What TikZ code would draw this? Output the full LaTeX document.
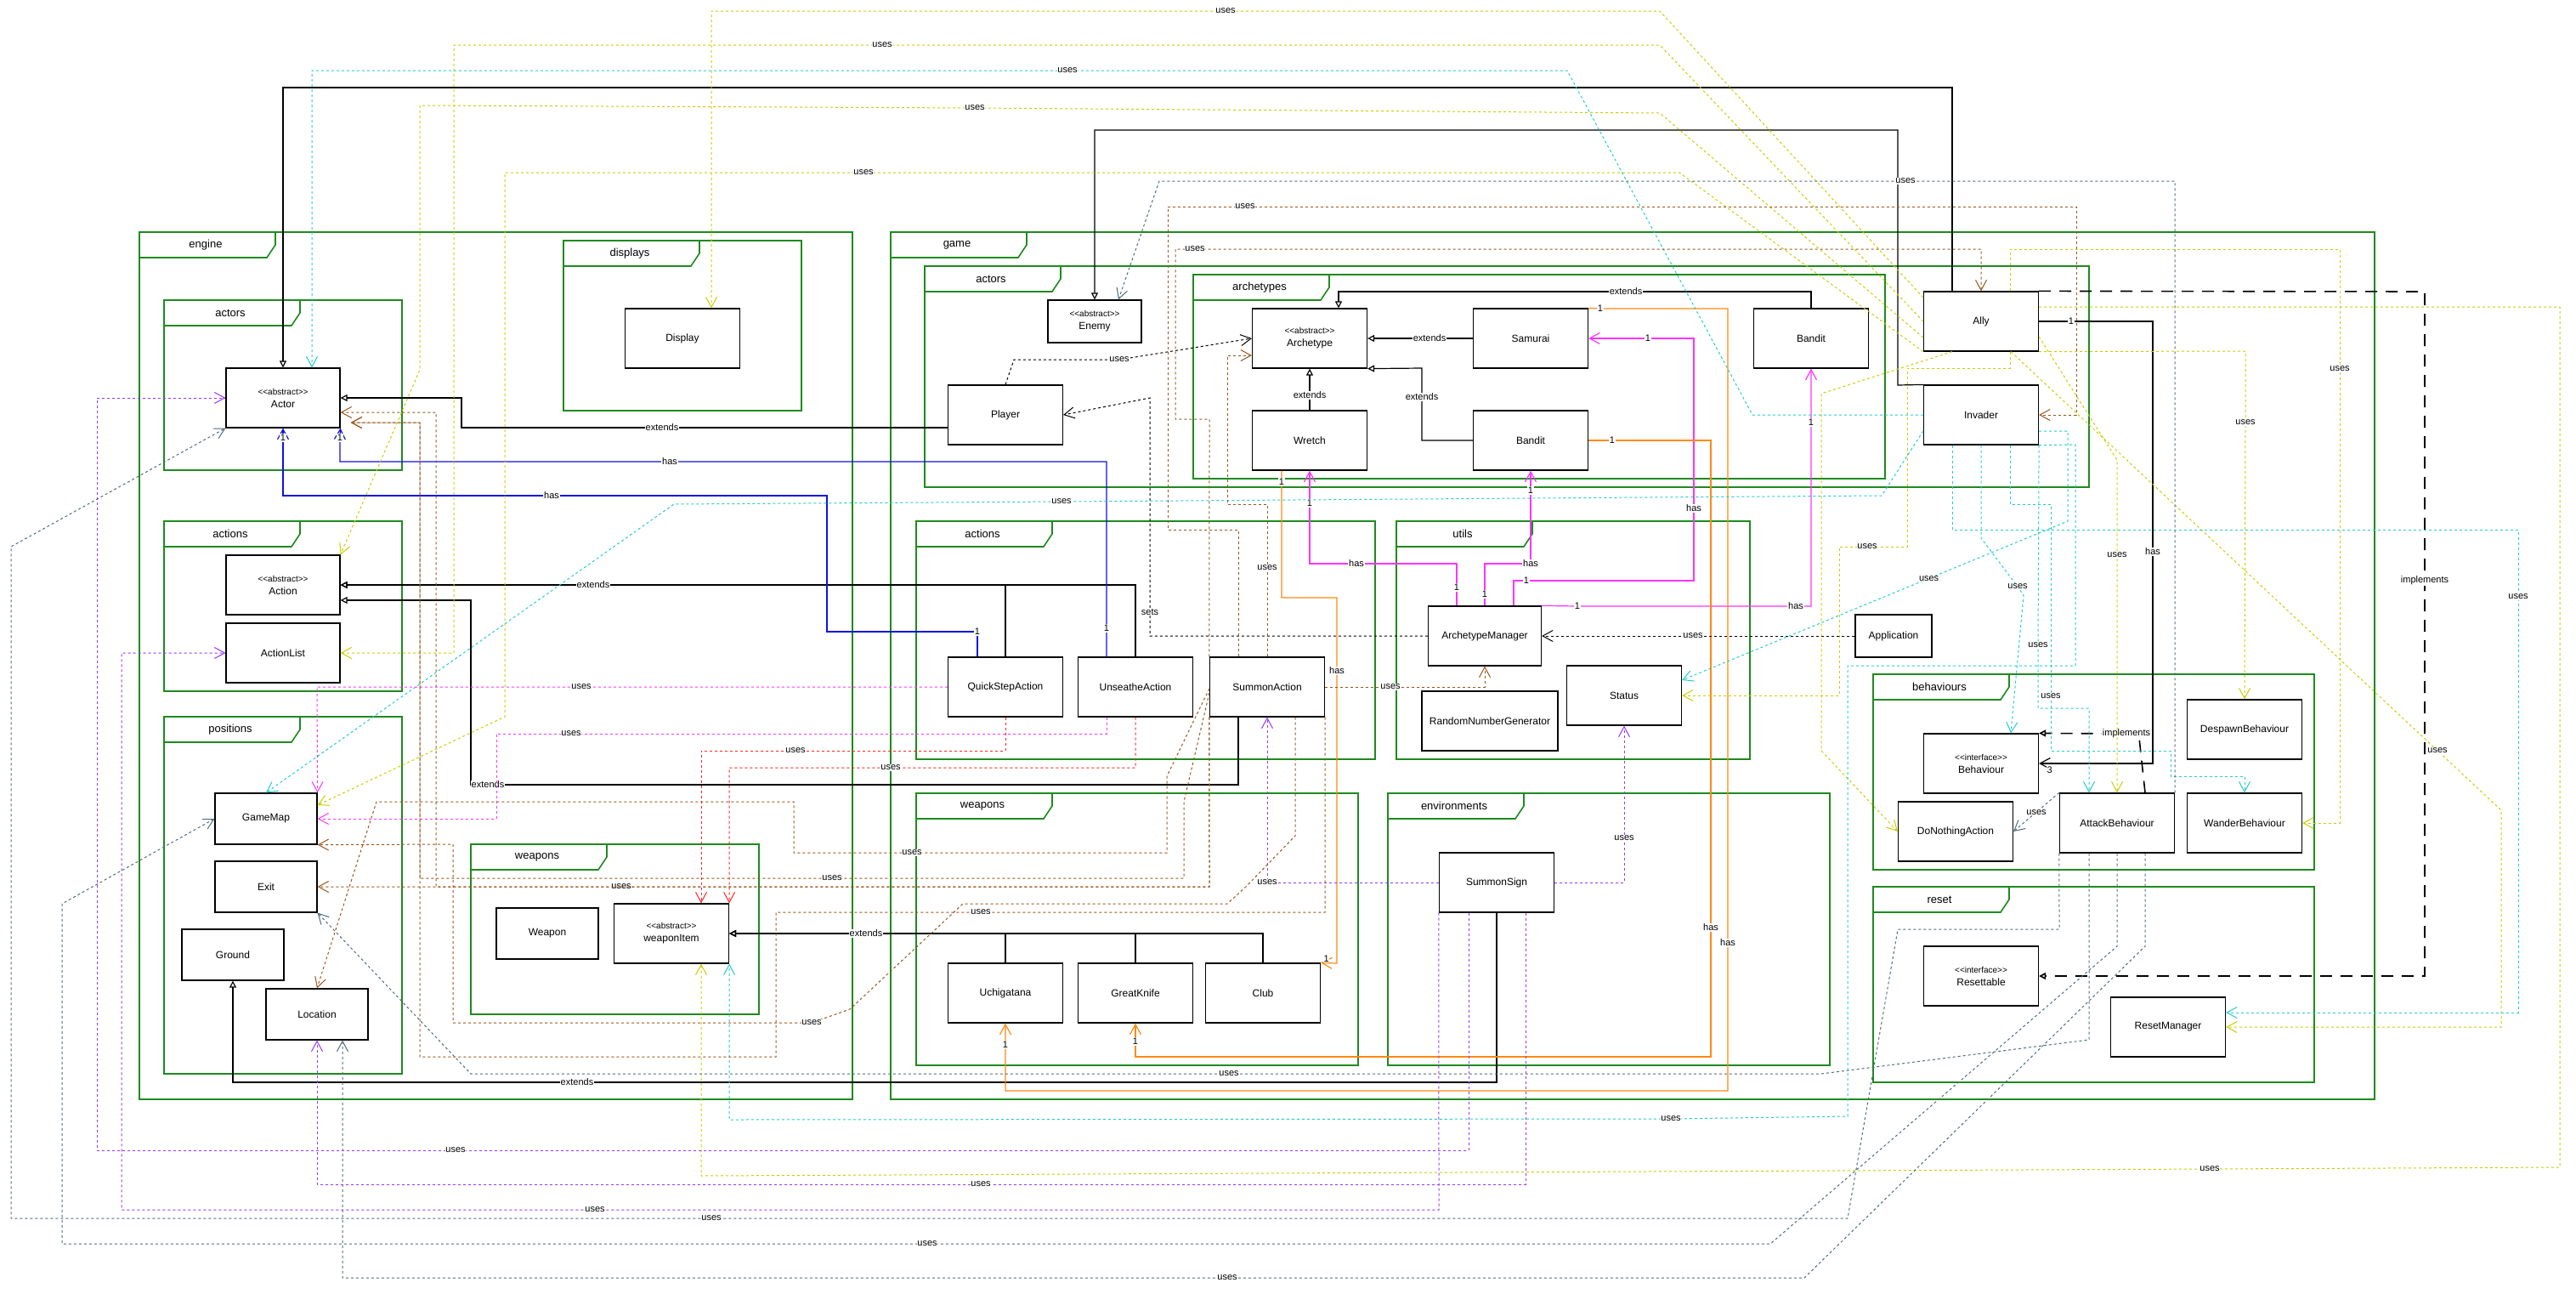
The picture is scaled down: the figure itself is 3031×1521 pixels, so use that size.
\documentclass[tikz,border=0pt]{standalone}
\usepackage{fontspec}
\setmainfont{Liberation Sans}
\usepackage{tikz}
\usetikzlibrary{arrows.meta}

\definecolor{pkggreen}{HTML}{1E8A1E}
\definecolor{ycol}{HTML}{CCCC00}
\definecolor{ccol}{HTML}{22CCCC}
\definecolor{scol}{HTML}{4F6B7A}
\definecolor{pcol}{HTML}{9933FF}
\definecolor{mcol}{HTML}{FF33FF}
\definecolor{rcol}{HTML}{FF2222}
\definecolor{bcol}{HTML}{99541A}
\definecolor{ocol}{HTML}{FF8811}
\definecolor{hcol}{HTML}{1111DD}

\tikzset{
  pkg/.style={draw=pkggreen, line width=0.8pt},
  pkglabel/.style={font=\fontsize{6.5}{8}\selectfont, inner sep=0pt},
  cls/.style={draw, line width=0.6pt, fill=white, minimum width=67.5pt, minimum height=35pt,
    inner sep=1pt, align=center, font=\fontsize{6}{7.5}\selectfont},
  smallcls/.style={cls, minimum width=60pt, minimum height=30pt},
  lbl/.style={fill=white, inner sep=0.4pt, font=\fontsize{5.5}{6}\selectfont},
  extends/.style={draw, line width=0.6pt, -{Triangle[open,length=4pt,width=4pt]}},
  impl/.style={draw, line width=0.8pt, dash pattern=on 7pt off 5pt, -{Triangle[open,length=4pt,width=4pt]}},
  has/.style={draw, line width=0.6pt, -{Straight Barb[length=6pt,width=6.5pt]}},
  uses/.style={draw, line width=0.5pt, dash pattern=on 1.5pt off 1.5pt, -{Straight Barb[length=6pt,width=6.5pt]}},
  kuse/.style={uses, draw=black},
  yuse/.style={uses, draw=ycol},
  cuse/.style={uses, draw=ccol},
  suse/.style={uses, draw=scol},
  puse/.style={uses, draw=pcol},
  muse/.style={uses, draw=mcol},
  ruse/.style={uses, draw=rcol},
  buse/.style={uses, draw=bcol},
}

\newcommand{\stereo}[2]{{\fontsize{5}{6}\selectfont <{}<#1>{}>}\\#2}
\newcommand{\umlpkg}[6]{%
  \draw[pkg] (#2,#3) rectangle (#4,#5);
  \draw[pkg] (#2,#3+30) -- (#2+150,#3+30) -- (#2+160,#3+15) -- (#2+160,#3);
  \node (#1) at (#2+78,#3+15) [pkglabel] {#6};
}

\begin{document}
\begin{tikzpicture}[x=0.5pt, y=-0.5pt]
\useasboundingbox (0,0) rectangle (3031,1521);

% packages
\umlpkg{engine}{164}{273}{1003}{1293}{engine}
\umlpkg{displays}{663}{283}{943}{483}{displays}
\umlpkg{eactors}{193}{353}{473}{553}{actors}
\umlpkg{eactions}{193}{613}{473}{813}{actions}
\umlpkg{positions}{193}{843}{473}{1263}{positions}
\umlpkg{eweapons}{554}{993}{893}{1193}{weapons}
\umlpkg{game}{1048}{273}{2794}{1293}{game}
\umlpkg{gactors}{1088}{313}{2458}{573}{actors}
\umlpkg{archetypes}{1404}{323}{2218}{563}{archetypes}
\umlpkg{gactions}{1078}{613}{1618}{893}{actions}
\umlpkg{utils}{1643}{613}{2059}{893}{utils}
\umlpkg{gweapons}{1078}{933}{1598}{1253}{weapons}
\umlpkg{environments}{1633}{933}{2153}{1253}{environments}
\umlpkg{behaviours}{2204}{793}{2723}{1023}{behaviours}
\umlpkg{reset}{2204}{1043}{2723}{1273}{reset}

% classes
\node (display) at (803,398) [cls] {Display};
\node (actor) at (333,468) [cls, minimum width=67pt] {\stereo{abstract}{Actor}};
\node (action) at (333,688) [cls, minimum width=67pt] {\stereo{abstract}{Action}};
\node (actionlist) at (333,768) [cls, minimum width=67pt] {ActionList};
\node (gamemap) at (313,963) [smallcls] {GameMap};
\node (exit) at (313,1043) [smallcls] {Exit};
\node (ground) at (274,1123) [smallcls] {Ground};
\node (location) at (373,1193) [smallcls] {Location};
\node (weapon) at (644,1098) [smallcls] {Weapon};
\node (weaponitem) at (790,1098) [cls] {\stereo{abstract}{weaponItem}};
\node (enemy) at (1288,378) [cls, minimum width=55pt, minimum height=25pt] {\stereo{abstract}{Enemy}};
\node (player) at (1183,488) [cls] {Player};
\node (archetype) at (1541,398) [cls] {\stereo{abstract}{Archetype}};
\node (samurai) at (1801,398) [cls] {Samurai};
\node (wretch) at (1541,518) [cls] {Wretch};
\node (banditl) at (1801,518) [cls] {Bandit};
\node (banditu) at (2131,398) [cls] {Bandit};
\node (ally) at (2331,378) [cls] {Ally};
\node (invader) at (2331,488) [cls] {Invader};
\node (quickstep) at (1183,808) [cls] {QuickStepAction};
\node (unsheathe) at (1336,808) [cls] {UnseatheAction};
\node (summon) at (1491,808) [cls] {SummonAction};
\node (archmgr) at (1747,748) [cls, minimum width=66.5pt] {ArchetypeManager};
\node (rng) at (1753,848) [cls, minimum width=80pt] {RandomNumberGenerator};
\node (status) at (1911,818) [cls] {Status};
\node (application) at (2228,748) [cls, minimum width=45pt, minimum height=25pt] {Application};
\node (uchigatana) at (1183,1168) [cls] {Uchigatana};
\node (greatknife) at (1336,1168) [cls] {GreatKnife};
\node (club) at (1486,1168) [cls] {Club};
\node (summonsign) at (1761,1038) [cls] {SummonSign};
\node (behaviour) at (2331,898) [cls] {\stereo{interface}{Behaviour}};
\node (despawn) at (2641,858) [cls] {DespawnBehaviour};
\node (donothing) at (2301,978) [cls] {DoNothingAction};
\node (attack) at (2491,968) [cls] {AttackBehaviour};
\node (wander) at (2641,968) [cls] {WanderBehaviour};
\node (resettable) at (2331,1148) [cls] {\stereo{interface}{Resettable}};
\node (resetmgr) at (2551,1208) [cls] {ResetManager};

% extends
\draw[extends] (ally.north -| 2297,0) -- (2297,103) -- (333,103) -- (actor.north);
\draw[extends] (invader.north west) -- (2233,453) -- (2233,153) -- (1288,153) -- (enemy.north);
\draw[extends] (player.west |- 0,503) -- (779,503) node[lbl]{extends} -- (543,503) -- (543,468) -- (actor.east);
\draw[extends] (samurai.west) -- (1682,398) node[lbl]{extends} -- (archetype.east);
\draw[extends] (banditl.west) -- (1673,518) -- (1673,467) node[lbl]{extends} -- (1673,433) -- (archetype.south east);
\draw[extends] (wretch.north) -- (1541,465) node[lbl]{extends} -- (archetype.south);
\draw[extends] (banditu.north) -- (2131,343) -- (1913,343) node[lbl]{extends} -- (1575,343) -- (archetype.north -| 1575,0);
\draw[extends] (quickstep.north) |- (action.east);
\draw[extends] (unsheathe.north) -- (1336,688) -- (698,688) node[lbl]{extends} -- (action.east);
\draw[extends] (summon.south -| 1457,0) -- (1457,923) -- (574,923) node[lbl]{extends} -- (554,923) -- (554,706) -- (action.east |- 0,706);
\draw[extends] (uchigatana.north) |- (weaponitem.east);
\draw[extends] (greatknife.north) |- (weaponitem.east);
\draw[extends] (club.north) -- (1486,1098) -- (1019,1098) node[lbl]{extends} -- (weaponitem.east);
\draw[extends] (summonsign.south) -- (1761,1273) -- (679,1273) node[lbl]{extends} -- (274,1273) -- (ground.south);

% implements
\draw[impl] (ally.north east) -- (2853,343) -- (2853,683) node[lbl]{implements} -- (2853,1148) -- (resettable.east);
\draw[impl] (attack.north -| 2524,0) -- (2517,868) -- (2502,863) node[lbl]{implements} -- (behaviour.north east);

% has
\draw[has] (ally.east) -- (2437,378) node[lbl]{1} -- (2533,378) -- (2533,649) node[lbl]{has} -- (2533,898) -- (behaviour.east) node[lbl, anchor=north west, xshift=4pt, yshift=-1pt]{3};
\draw[has, draw=mcol] (archmgr.north -| 1714,0) -- (1714,691) node[lbl]{1} -- (1714,663) -- (1596,663) node[lbl]{has} -- (1541,663) -- (1541,592) node[lbl]{1} -- (wretch.south);
\draw[has, draw=mcol] (archmgr.north -| 1747,0) -- (1747,699) node[lbl]{1} -- (1747,663) -- (1801,663) node[lbl]{has} -- (1801,577) node[lbl]{1} -- (banditl.south);
\draw[has, draw=mcol] (archmgr.north -| 1781,0) -- (1781,683) -- (1796,683) node[lbl]{1} -- (1993,683) -- (1993,598) node[lbl]{has} -- (1993,398) -- (1939,398) node[lbl]{1} -- (samurai.east);
\draw[has, draw=mcol] (archmgr.north east) -- (1856,713) node[lbl]{1} -- (2113,713) node[lbl]{has} -- (2131,713) -- (2131,497) node[lbl]{1} -- (banditu.south);
\draw[has, draw=hcol] (quickstep.north -| 1150,0) -- (1150,743) node[lbl]{1} -- (973,743) -- (973,583) -- (649,583) node[lbl]{has} -- (333,583) -- (333,515) node[lbl]{1} -- (actor.south);
\draw[has, draw=hcol] (unsheathe.north -| 1302,0) -- (1302,739) node[lbl]{1} -- (1302,543) -- (788,543) node[lbl]{has} -- (400,543) -- (400,515) node[lbl]{1} -- (actor.south east);
\draw[has, draw=ocol] (samurai.north east) -- (1883,363) node[lbl]{1} -- (2033,363) -- (2033,1109) node[lbl]{has} -- (2033,1283) -- (1183,1283) -- (1183,1229) node[lbl]{1} -- (uchigatana.south);
\draw[has, draw=ocol] (banditl.east) -- (1897,518) node[lbl]{1} -- (2013,518) -- (2013,1091) node[lbl]{has} -- (2013,1243) -- (1336,1243) -- (1336,1225) node[lbl]{1} -- (greatknife.south);
\draw[has, draw=ocol] (wretch.south -| 1508,0) -- (1508,567) node[lbl]{1} -- (1508,703) -- (1573,703) -- (1573,789) node[lbl]{has} -- (1573,1133) -- (club.north east) node[lbl, anchor=south west, xshift=1pt]{1};

% uses, black
\draw[kuse] (player.north) -- (1193,423) -- (1317,423) node[lbl]{uses} -- (archetype.west);
\draw[kuse] (archmgr.west) -- (1353,748) -- (1353,720) node[lbl]{sets} -- (1353,468) -- (player.east);
\draw[kuse] (application.west) -- (1992,748) node[lbl]{uses} -- (archmgr.east);

% uses, yellow
\draw[yuse] (ally.west |- 0,350) -- (1953,13) -- (1442,13) node[lbl]{uses} -- (837,13) -- (display.north -| 837,0);
\draw[yuse] (ally.west |- 0,378) -- (1953,53) -- (1038,53) node[lbl]{uses} -- (534,53) -- (534,768) -- (actionlist.east);
\draw[yuse] (ally.west |- 0,397) -- (1953,133) -- (1147,127) node[lbl]{uses} -- (494,124) -- (494,435) -- (action.north east);
\draw[yuse] (ally.south west) -- (1976,203) -- (1016,203) node[lbl]{uses} -- (594,203) -- (594,843) -- (gamemap.east |- 0,947);
\draw[yuse] (ally.south -| 2297,0) -- (2143,463) -- (2143,883) -- (donothing.west);
\draw[yuse] (ally.south -| 2365,0) -- (2365,433) -- (2244,433) -- (2244,643) -- (2197,643) node[lbl]{uses} -- (2164,643) -- (2164,818) -- (status.east);
\draw[yuse] (ally.north -| 2365,0) -- (2365,293) -- (2753,293) -- (2753,434) node[lbl]{uses} -- (2753,968) -- (wander.east);
\draw[yuse] (ally.south east) -- (2642,413) -- (2642,497) node[lbl]{uses} -- (despawn.north);
\draw[yuse] (ally.east |- 0,361) -- (3012,361) -- (3012,1373) -- (2600,1375) node[lbl]{uses} -- (825,1383) -- (weaponitem.south -| 825,0);
\draw[yuse] (ally.south -| 2366,0) -- node[lbl, pos=0.87]{uses} (2943,953) -- (2943,1208) -- (resetmgr.east);
\draw[yuse] (ally.east |- 0,396) -- (2491,541) -- (2491,653) node[lbl]{uses} -- (attack.north);

% uses, cyan
\draw[cuse] (invader.west) -- (2062,488) -- (1844,83) -- (1256,83) node[lbl]{uses} -- (367,83) -- (actor.north -| 367,0);
\draw[cuse] (invader.west |- 0,507) -- (2214,583) -- (1249,590) node[lbl]{uses} -- (793,593) -- (gamemap.north);
\draw[cuse] (invader.east |- 0,507) -- (2433,507) -- (2433,613) -- node[lbl, pos=0.36]{uses} (status.east |- 0,800);
\draw[cuse] (invader.south east) -- (2442,523) -- (2442,783) -- (2174,783) -- (2174,1313) -- (1966,1316) node[lbl]{uses} -- (858,1317) -- (weaponitem.south east);
\draw[cuse] (invader.south -| 2331,0) -- (2331,633) -- (2374,690) node[lbl]{uses} -- (2381,700) -- (behaviour.north -| 2366,0);
\draw[cuse] (invader.south east) -- (2398,759) node[lbl]{uses} -- (2398,833) -- (2458,833) -- (attack.north -| 2458,0);
\draw[cuse] (invader.south -| 2365,0) -- (2365,593) -- (2413,593) -- (2413,819) node[lbl]{uses} -- (2413,883) -- (2554,883) -- (2554,913) -- (2641,913) -- (wander.north);
\draw[cuse] (invader.south -| 2297,0) -- (2297,623) -- (2963,623) -- (2963,702) node[lbl]{uses} -- (2963,1191) -- (resetmgr.east |- 0,1191);

% uses, slate
\draw[suse] (attack.north east) -- (2559,213) -- (2242,213) node[lbl]{uses} -- (1364,213) -- (enemy.north -| 1316,0);
\draw[suse] (attack.north west) -- node[lbl, pos=0.5]{uses} (donothing.east);
\draw[suse] (attack.south west) -- (2423,1093) -- (2233,1093) -- (2174,1433) -- (837,1433) node[lbl]{uses} -- (13,1433) -- (13,643) -- (actor.south west);
\draw[suse] (attack.south) -- (2491,1113) -- (2083,1463) -- (1091,1463) node[lbl]{uses} -- (73,1463) -- (73,1063) -- (gamemap.west);
\draw[suse] (attack.south -| 2524,0) -- (2524,1113) -- (2123,1503) -- (1444,1503) node[lbl]{uses} -- (403,1503) -- (location.south -| 403,0);
\draw[suse] (attack.south -| 2458,0) -- (2458,1223) -- (2143,1263) -- (1446,1263) node[lbl]{uses} -- (554,1263) -- (exit.south east);

% uses, purple
\draw[puse] (summonsign.south -| 1728,0) -- (1728,1353) -- (536,1353) node[lbl]{uses} -- (114,1353) -- (114,468) -- (actor.west);
\draw[puse] (summonsign.south west) -- (1693,1423) -- (700,1423) node[lbl]{uses} -- (143,1423) -- (143,768) -- (actionlist.west);
\draw[puse] (summonsign.south -| 1795,0) -- (1795,1393) -- (1154,1393) node[lbl]{uses} -- (373,1393) -- (location.south);
\draw[puse] (summonsign.west) -- (1491,1038) node[lbl]{uses} -- (summon.south);
\draw[puse] (summonsign.east) -- (1911,1038) -- (1911,986) node[lbl]{uses} -- (status.south);

% uses, magenta and red
\draw[muse] (quickstep.west) -- (684,808) node[lbl]{uses} -- (373,808) -- (gamemap.north east);
\draw[muse] (unsheathe.south -| 1302,0) -- (1302,863) -- (672,863) node[lbl]{uses} -- (584,863) -- (584,963) -- (gamemap.east);
\draw[ruse] (quickstep.south) -- (1183,883) -- (936,883) node[lbl]{uses} -- (825,883) -- (weaponitem.north -| 825,0);
\draw[ruse] (unsheathe.south) -- (1336,903) -- (1048,903) node[lbl]{uses} -- (858,903) -- (weaponitem.north east);

% uses, brown
\draw[buse] (summon.north west) -- (1423,493) -- (1383,493) -- (1383,293) -- (1406,293) node[lbl]{uses} -- (2331,293) -- (ally.north);
\draw[buse] (summon.north -| 1457,0) -- (1457,623) -- (1374,623) -- (1374,243) -- (1465,243) node[lbl]{uses} -- (2443,243) -- (2443,488) -- (invader.east);
\draw[buse] (summon.north) -- (1491,668) node[lbl]{uses} -- (1491,593) -- (1444,593) -- (1444,418) -- (archetype.west |- 0,418);
\draw[buse] (summon.south west) -- (1423,1043) -- (731,1043) node[lbl]{uses} -- (exit.east);
\draw[buse] (summon.south west) -- (1423,1043) -- (513,1043) -- (513,485) -- (actor.east |- 0,485);
\draw[buse, shorten >=6pt] (summon.south east) -- (1559,1073) -- (1154,1073) node[lbl]{uses} -- (913,1073) -- (913,1243) -- (494,1243) -- (494,497) -- (actor.east |- 0,497);
\draw[buse] (summon.south -| 1524,0) -- (1524,983) -- (1466,1043) -- (1444,1063) -- (1133,1063) -- (1000,1187) -- (955,1203) node[lbl]{uses} -- (533,1203) -- (533,993) -- (gamemap.south east);
\draw[buse] (summon.west |- 0,810) -- (1373,913) -- (1373,1003) -- (1073,1003) node[lbl]{uses} -- (934,1003) -- (934,943) -- (443,943) -- (location.north);
\draw[buse, shorten >=6pt] (summon.west |- 0,815) -- (1393,943) -- (1393,1033) -- (979,1033) node[lbl]{uses} -- (494,1033) -- (494,497) -- (actor.east |- 0,497);
\draw[buse] (summon.east) -- (1636,808) node[lbl]{uses} -- (1747,808) -- (archmgr.south);

\end{tikzpicture}
\end{document}
